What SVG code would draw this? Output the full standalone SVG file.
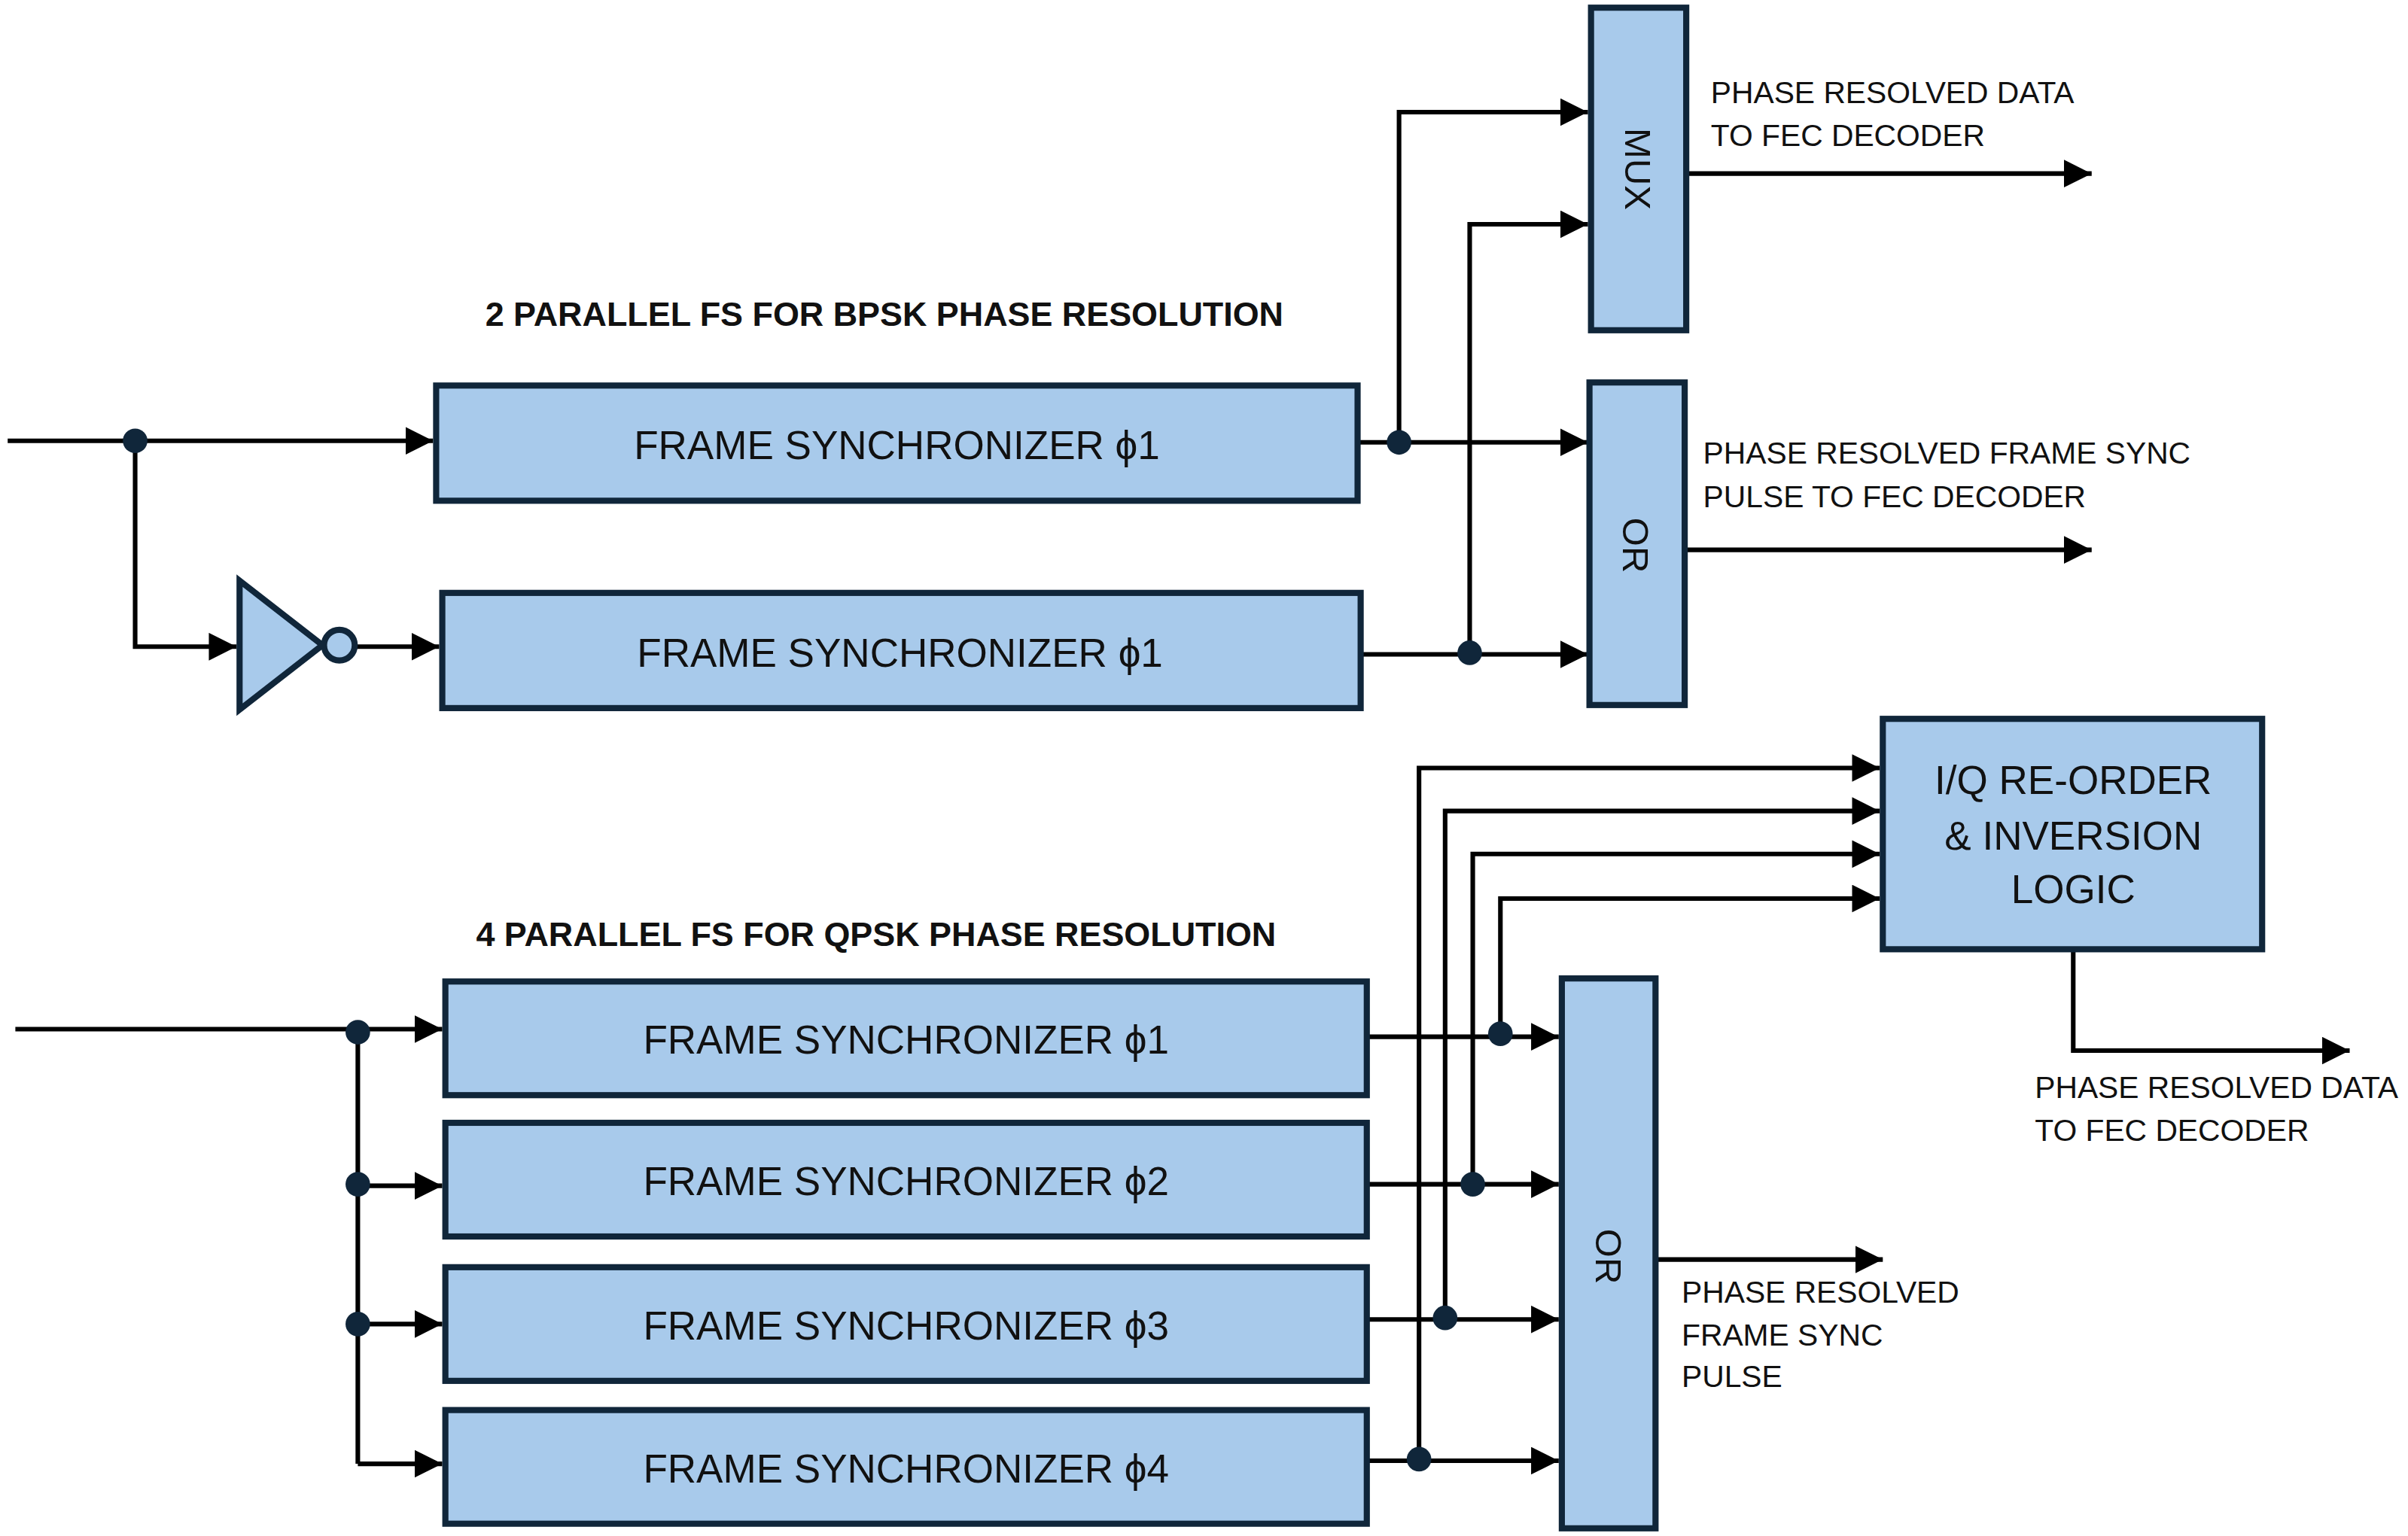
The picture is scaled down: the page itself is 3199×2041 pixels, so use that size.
<svg xmlns="http://www.w3.org/2000/svg" width="3199" height="2041" viewBox="0 0 3199 2041">
<style>
.box{fill:#a8caeb;stroke:#10263a;stroke-width:4}
.w{fill:none;stroke:#000;stroke-width:3;marker-end:url(#ah)}
.l{fill:none;stroke:#000;stroke-width:3}
.dot{fill:#10263a}
.t{font-family:"Liberation Sans",Arial,sans-serif;fill:#111}
.fs{font-size:26px;text-anchor:middle}
.lab{font-size:20px}
.ttl{font-size:22px;font-weight:bold}
.rot{font-size:24px;text-anchor:middle}
</style>
<defs>
<marker id="ah" markerUnits="userSpaceOnUse" markerWidth="20" markerHeight="20" refX="18" refY="9" orient="auto">
<path d="M0,0 L18,9 L0,18 Z" fill="#000"/>
</marker>
</defs>
<rect width="3199" height="2041" fill="#fff"/>
<g transform="scale(2.0402,2.041)">
<g id="connectors">
<path class="w" d="M5,287 H282"/>
<path class="w" d="M88,287 V421 H154"/>
<path class="w" d="M231,421 H286"/>
<path class="w" d="M884,288 H1034"/>
<path class="w" d="M911,288 V73 H1034"/>
<path class="w" d="M886,426 H1034"/>
<path class="w" d="M957,425 V146 H1034"/>
<path class="w" d="M1098,113 H1362"/>
<path class="w" d="M1097,358 H1362"/>
<path class="w" d="M10,670 H288"/>
<path class="l" d="M233,670 V953"/>
<path class="w" d="M233,772 H288"/>
<path class="w" d="M233,862 H288"/>
<path class="w" d="M233,953 H288"/>
<path class="w" d="M890,675 H1015"/>
<path class="w" d="M890,771 H1015"/>
<path class="w" d="M890,859 H1015"/>
<path class="w" d="M890,951 H1015"/>
<path class="w" d="M977,673 V585 H1224"/>
<path class="w" d="M959,771 V556 H1224"/>
<path class="w" d="M941,858 V528 H1224"/>
<path class="w" d="M924,950 V500 H1224"/>
<path class="w" d="M1350,618 V684 H1530"/>
<path class="w" d="M1078,820 H1226"/>
<ellipse class="dot" cx="88" cy="287" rx="8" ry="8"/>
<ellipse class="dot" cx="911" cy="288" rx="8" ry="8"/>
<ellipse class="dot" cx="957" cy="425" rx="8" ry="8"/>
<ellipse class="dot" cx="233" cy="672" rx="8" ry="8"/>
<ellipse class="dot" cx="233" cy="771" rx="8" ry="8"/>
<ellipse class="dot" cx="233" cy="862" rx="8" ry="8"/>
<ellipse class="dot" cx="977" cy="673" rx="8" ry="8"/>
<ellipse class="dot" cx="959" cy="771" rx="8" ry="8"/>
<ellipse class="dot" cx="941" cy="858" rx="8" ry="8"/>
<ellipse class="dot" cx="924" cy="950" rx="8" ry="8"/>
</g>
<g id="mux"><rect class="box" x="1036" y="5" width="62" height="210"/><text class="t rot" transform="translate(1058,110) rotate(90)">MUX</text></g>
<g id="or1"><rect class="box" x="1035" y="249" width="62" height="210"/><text class="t rot" transform="translate(1057,355) rotate(90)">OR</text></g>
<g id="fs1a"><rect class="box" x="284" y="251" width="600" height="75"/><text class="t fs" x="584" y="299">FRAME SYNCHRONIZER  ϕ1</text></g>
<g id="fs1b"><rect class="box" x="288" y="386" width="598" height="75"/><text class="t fs" x="586" y="434">FRAME SYNCHRONIZER  ϕ1</text></g>
<g id="inv"><path class="box" d="M156,378 L156,462 L210,420 Z"/><circle class="box" cx="221" cy="420" r="10"/></g>
<g id="iq"><rect class="box" x="1226" y="468" width="247" height="150"/>
<text class="t fs" x="1350" y="517">I/Q RE-ORDER</text><text class="t fs" x="1350" y="553">&amp; INVERSION</text><text class="t fs" x="1350" y="588">LOGIC</text></g>
<g id="or2"><rect class="box" x="1017" y="637" width="61" height="358"/><text class="t rot" transform="translate(1039,818) rotate(90)">OR</text></g>
<g id="fs2a"><rect class="box" x="290" y="639" width="600" height="74"/><text class="t fs" x="590" y="686">FRAME SYNCHRONIZER  ϕ1</text></g>
<g id="fs2b"><rect class="box" x="290" y="731" width="600" height="74"/><text class="t fs" x="590" y="778">FRAME SYNCHRONIZER  ϕ2</text></g>
<g id="fs2c"><rect class="box" x="290" y="825" width="600" height="74"/><text class="t fs" x="590" y="872">FRAME SYNCHRONIZER  ϕ3</text></g>
<g id="fs2d"><rect class="box" x="290" y="918" width="600" height="74"/><text class="t fs" x="590" y="965">FRAME SYNCHRONIZER  ϕ4</text></g>
<g id="labels">
<text class="t ttl" x="316" y="212">2 PARALLEL FS FOR BPSK PHASE RESOLUTION</text>
<text class="t ttl" x="310" y="616">4 PARALLEL FS FOR QPSK PHASE RESOLUTION</text>
<text class="t lab" x="1114" y="67">PHASE RESOLVED DATA</text>
<text class="t lab" x="1114" y="95">TO FEC DECODER</text>
<text class="t lab" x="1109" y="302">PHASE RESOLVED FRAME SYNC</text>
<text class="t lab" x="1109" y="330">PULSE TO FEC DECODER</text>
<text class="t lab" x="1325" y="715">PHASE RESOLVED DATA</text>
<text class="t lab" x="1325" y="743">TO FEC DECODER</text>
<text class="t lab" x="1095" y="848">PHASE RESOLVED</text>
<text class="t lab" x="1095" y="876">FRAME SYNC</text>
<text class="t lab" x="1095" y="903">PULSE</text>
</g>
</g>
</svg>
